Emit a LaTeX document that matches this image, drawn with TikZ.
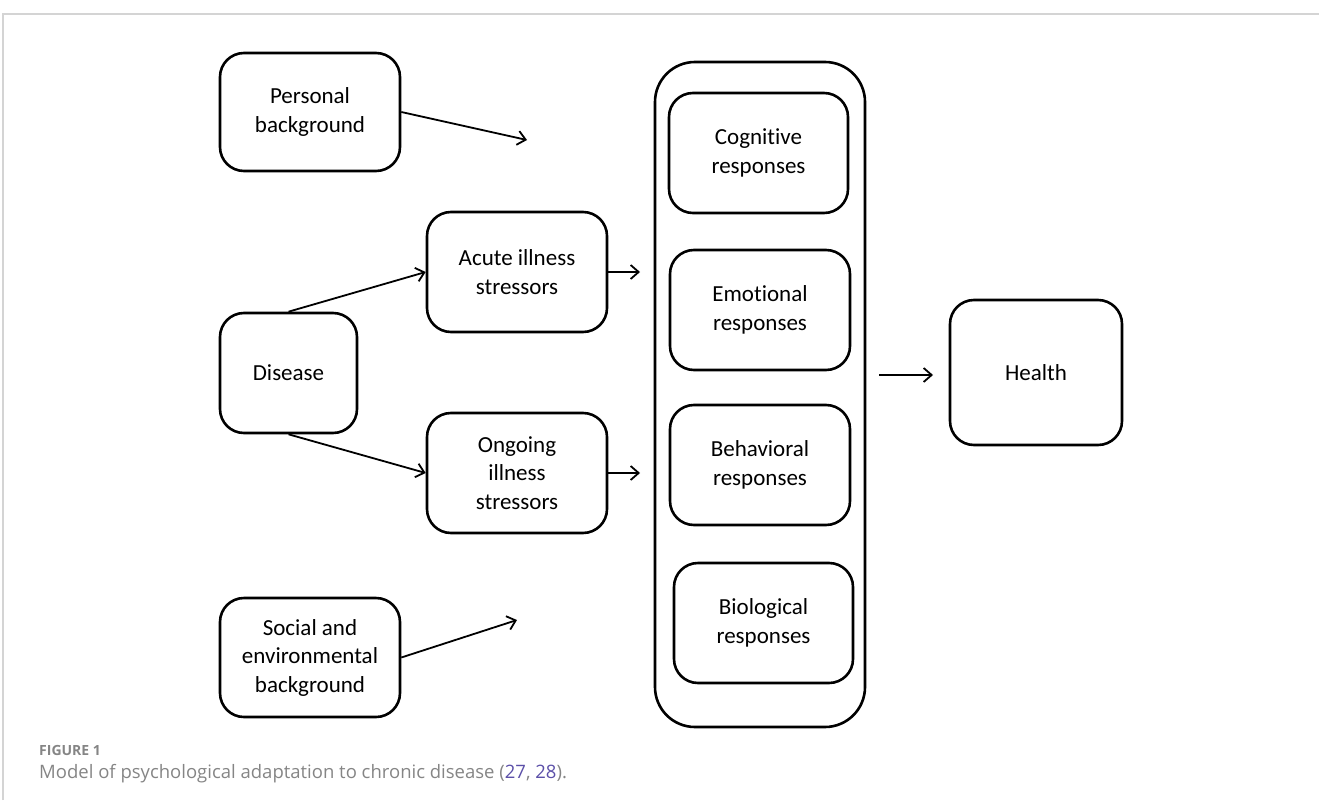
\documentclass[tikz,border=0pt]{standalone}
\usepackage{fontspec}
\setmainfont{Carlito}[Ligatures=CommonOff]
\newfontfamily\capfont{Open Sans}[Ligatures=CommonOff]
\usepackage{xcolor}
\usetikzlibrary{positioning,arrows.meta}
\definecolor{CaptionGray}{HTML}{858585}
\definecolor{FrameGray}{HTML}{D4D4D4}
\definecolor{CiteBlue}{HTML}{5B4FA8}

\begin{document}
\begin{tikzpicture}[
      x=1pt, y=-1pt,
      every node/.style={align=center, font=\fontsize{23}{28.5}\selectfont},
      block/.style={draw, line width=2.6pt, rounded corners=24pt, minimum width=180pt, minimum height=120pt, inner sep=0pt},
      group/.style={draw, line width=2.6pt, rounded corners=40pt, minimum width=210pt, minimum height=665pt},
      arrow/.style={line width=1.8pt, -{Straight Barb[length=8pt,width=14pt,line width=1.8pt]}},
      caption/.style={anchor=base west, inner sep=0pt, text=CaptionGray, font=\capfont\fontsize{18.5}{22}\selectfont}
    ]
      \useasboundingbox (0,0) rectangle (1319,800);
      \draw[FrameGray, line width=1.5pt] (3,800) -- (3,14) -- (1319,14);

      % left column
      \node[block, minimum height=118pt] (personal) at (310,112) {Personal\\background};
      \node[block, minimum width=137pt] (disease) at (288.5,373) {Disease};
      \node[block, minimum height=119pt] (social) at (310,657.5) {Social and\\environmental\\background};

      % stressors
      \node[block] (acute) at (517,272) {Acute illness\\stressors};
      \node[block] (ongoing) at (517,473) {Ongoing\\illness\\stressors};

      % responses
      \node[group] (responses) at (760,394.5) {};
      \node[block, minimum width=179pt] (cognitive) at (758.5,153) {Cognitive\\responses};
      \node[block] (emotional) at (760,310) {Emotional\\responses};
      \node[block] (behavioral) at (760,465) {Behavioral\\responses};
      \node[block, minimum width=179pt] (biological) at (763.5,623) {Biological\\responses};

      \node[block, minimum width=172pt, minimum height=145pt] (health) at (1036,372.5) {Health};

      % free arrow ends
      \coordinate (personalend) at (527,140);
      \coordinate (socialend) at (517,620);
      \coordinate (acuteend) at (640,272);
      \coordinate (ongoingend) at (640,473);
      \coordinate (healthstart) at (879,375);
      \coordinate (healthend) at (933,375);

      \draw[arrow] (personal.east) -- (personalend);
      \draw[arrow] (social.east) -- (socialend);
      \draw[arrow] (disease.north) -- (acute.west);
      \draw[arrow] (disease.south) -- (ongoing.west);
      \draw[arrow] (acute.east) -- (acuteend);
      \draw[arrow] (ongoing.east) -- (ongoingend);
      \draw[arrow] (healthstart) -- (healthend);

      % caption
      \node[caption, font=\capfont\bfseries\fontsize{14}{17}\selectfont] (figlabel) at (39,755) {FIGURE 1};
      \node[caption] (figcaption) at (39,778) {Model of psychological adaptation to chronic disease (\textcolor{CiteBlue}{27}, \textcolor{CiteBlue}{28}).};

    \end{tikzpicture}
\end{document}
